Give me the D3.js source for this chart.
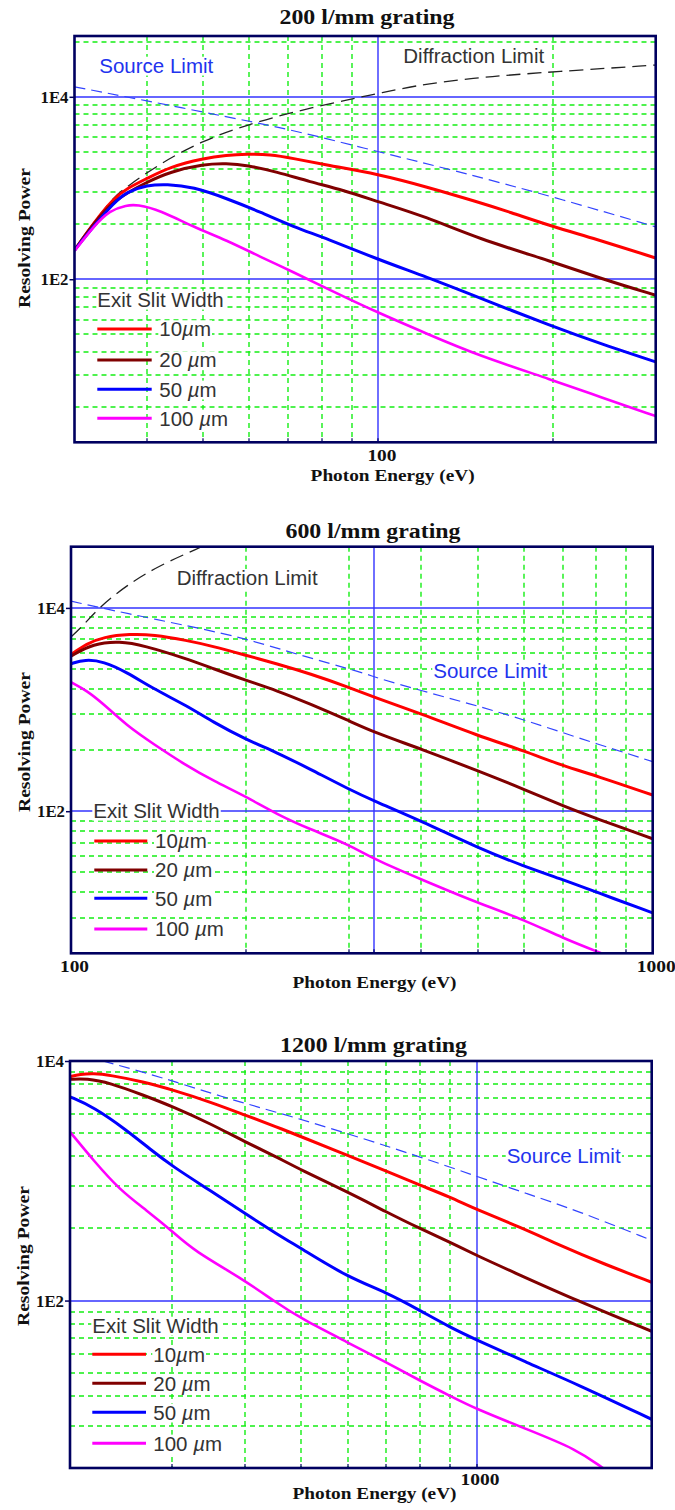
<!DOCTYPE html>
<html>
<head>
<meta charset="utf-8">
<script src="https://cdn.jsdelivr.net/npm/d3@7"></script>
<style>
  body { margin: 0; background: #fff; }
  svg { display: block; }
</style>
</head>
<body>
<svg id="chart" width="675" height="1510"></svg>
<script>
// ---------------------------------------------------------------
// Resolving power vs photon energy, [energy (eV), resolving power]
// ---------------------------------------------------------------
const slitLabels = ["10µm", "20 µm", "50 µm", "100 µm"];
const slitColors = ["#ff0000", "#800000", "#0000ff", "#ff00ff"];
const powerTicks = [1e2, 1e4];

// 200 l/mm grating
const energyRange200 = [30, 300];
const powerRange200 = [1.63, 46400];
const majorEnergy200 = [100];
const labelEnergy200 = [100];
const g200_diffraction = [[30,208],[32.3,411],[35,795],[36.9,1030],[42.1,1858],[50,3350],[60,5010],[71.4,6840],[90.6,9600],[100,10900],[121,14030],[158,16870],[200,18790],[300,22290]];
const g200_source = [[30,12870],[39.4,9200],[54.8,6040],[71.4,4315],[100,2495],[138,1504],[200,800],[300,375]];
const g200_10um = [[30,208],[32.3,408],[35,768],[36.9,988],[40,1273],[43.8,1706],[50,2110],[54.8,2293],[59.4,2350],[65.1,2335],[71.4,2110],[81.5,1781],[100,1419],[121,1030],[148,705],[168,547],[200,375],[235,280],[300,171]];
const g200_20um = [[30,208],[32.3,401],[35,736],[40,1168],[43.8,1504],[50,1827],[54.8,1858],[59.4,1781],[66.8,1504],[76.3,1168],[87.1,947],[100,705],[121,483],[148,280],[200,155],[241,102],[300,66.8]];
const g200_50um = [[30,208],[32.3,375],[35,682],[36.9,908],[40,1075],[43.2,1102],[48,1030],[54.8,768],[62.6,547],[71.4,375],[81.5,280],[100,164],[121,106],[148,64],[200,30],[241,19.7],[300,12.4]];
const g200_100um = [[30,204],[32.3,375],[34.5,571],[36.9,648],[38.4,660],[42.1,571],[48,375],[54.8,268],[62.6,176],[71.4,120],[81.5,79],[100,42.7],[121,25.4],[148,14.7],[200,7.8],[241,5.1],[300,3.16]];

// 600 l/mm grating
const energyRange600 = [100, 1000];
const powerRange600 = [4, 40000];
const majorEnergy600 = [332];
const labelEnergy600 = [100, 1000];
const g600_diffraction = [[100,5173],[105,6748],[112.1,10230],[124.7,16760],[142.2,26390],[166.7,39110],[170,41600]];
const g600_source = [[100,11645],[124.7,8805],[162.3,6493],[200,4989],[241.1,3573],[322.4,2251],[332,2084],[408.8,1482],[498,1095],[607,779],[740,533],[1000,307]];
const g600_10um = [[100,3467],[106.4,4453],[113.7,5173],[126.3,5538],[138.5,5463],[158,4797],[175.7,4188],[200,3412],[225.8,2825],[257.5,2251],[300,1660],[332,1322],[400,907],[500,554],[600,394],[700,280],[800,223],[1000,144]];
const g600_20um = [[100,3357],[109.2,4453],[121.4,4692],[133.1,4284],[158,3166],[175.7,2522],[200,1934],[225.8,1540],[257.5,1138],[300,779],[332,597],[400,409],[500,250],[600,165],[700,113],[800,84.5],[1000,53.6]];
const g600_50um = [[100,2825],[105.7,3116],[113.7,2978],[124.7,2334],[138.5,1601],[158,1095],[175.7,749],[200,506],[225.8,379],[257.5,260],[300,165],[332,126],[400,80.2],[500,43.7],[600,28.8],[700,21.3],[800,16.0],[1000,9.98]];
const g600_100um = [[100,1860],[106.4,1540],[113.7,1138],[124.7,695],[138.5,459],[158,280],[175.7,199],[200,139],[225.8,93.4],[257.5,66.4],[300,47.2],[332,33.6],[400,21.3],[500,12.5],[600,8.6],[700,5.65],[828,3.88]];

// 1200 l/mm grating
const energyRange1200 = [200, 2000];
const powerRange1200 = [4, 10000];
const majorEnergy1200 = [1000];
const labelEnergy1200 = [1000];
const g1200_source = [[227.8,10000],[285.6,7390],[371.8,4874],[484,3420],[638,2255],[800,1582],[1000,1091],[1219,781],[1486,566],[2000,318]];
const g1200_10um = [[200,7390],[208,7740],[219.3,7890],[234,7635],[267.3,6710],[301,5718],[348,4565],[400,3533],[453,2820],[500,2326],[600,1635],[700,1201],[800,917],[900,732],[1000,574],[1187,411],[1391,289],[1651,203],[2000,142]];
const g1200_20um = [[200,7030],[213.6,7165],[234,6582],[267.3,5194],[301,4147],[348,3011],[400,2112],[453,1582],[500,1224],[600,806],[700,548],[800,398],[900,307],[1000,238],[1141,178],[1486,100],[2000,55.4]];
const g1200_50um = [[200,5027],[219.3,4147],[250.3,2646],[274.6,1835],[301,1305],[348,833],[400,532],[453,361],[500,271],[600,157],[700,117],[800,82.5],[900,59.8],[1000,46.9],[1219,30.4],[1486,20.1],[2000,10.2]];
const g1200_100um = [[200,2561],[219.3,1484],[243.8,833],[271,566],[301,373],[325.8,262],[400,147],[447,100],[500,70.3],[600,44.8],[700,30.4],[800,21.4],[900,16.0],[1000,12.4],[1219,8.44],[1486,5.74],[1651,3.98]];

// ---------------------------------------------------------------
// Panel layout
// ---------------------------------------------------------------
const panels = [
  { title: "200 l/mm grating", titleX: 367, titleBase: 24, titleLen: 175,
    left: 74.5, right: 655.7, top: 36, bottom: 442.3,
    energy: energyRange200, power: powerRange200, majorE: majorEnergy200, labelE: labelEnergy200,
    curves: [g200_10um, g200_20um, g200_50um, g200_100um],
    source: g200_source, diffraction: g200_diffraction,
    xLabelBase: 461, xTitleX: 392.6, xTitleBase: 481, yTitleX: 24.5, yTitleY: 238,
    sourceText: [99.3, 72.7], diffText: [403.3, 62.7],
    legTitle: [97.3, 306.7], legRows: [329, 360, 389.3, 418.3], legLine: [97.3, 151.7], legTextX: 159.3 },
  { title: "600 l/mm grating", titleX: 373, titleBase: 538, titleLen: 175,
    left: 71, right: 652.7, top: 546.7, bottom: 953.3,
    energy: energyRange600, power: powerRange600, majorE: majorEnergy600, labelE: labelEnergy600,
    curves: [g600_10um, g600_20um, g600_50um, g600_100um],
    source: g600_source, diffraction: g600_diffraction,
    xLabelBase: 971.5, xTitleX: 374.5, xTitleBase: 988, yTitleX: 24, yTitleY: 742,
    sourceText: [433.3, 678.3], diffText: [176.7, 585],
    legTitle: [93.3, 817.7], legRows: [841, 870, 898.3, 929], legLine: [94.3, 147.3], legTextX: 155 },
  { title: "1200 l/mm grating", titleX: 373.5, titleBase: 1052, titleLen: 187,
    left: 70, right: 651.7, top: 1061, bottom: 1468,
    energy: energyRange1200, power: powerRange1200, majorE: majorEnergy1200, labelE: labelEnergy1200,
    curves: [g1200_10um, g1200_20um, g1200_50um, g1200_100um],
    source: g1200_source, diffraction: null,
    xLabelBase: 1485, xTitleX: 374.5, xTitleBase: 1499, yTitleX: 23, yTitleY: 1256,
    sourceText: [506.7, 1163.3], diffText: null,
    legTitle: [92.3, 1332.7], legRows: [1354.3, 1383.3, 1412.3, 1443.3], legLine: [92.3, 146], legTextX: 153.3 }
];

const SERIF = "'Liberation Serif','Times New Roman',serif";
const SANS = "'Liberation Sans',Arial,Helvetica,sans-serif";
const GRID = "#14ee14";
const MAJOR = "#3333ff";
const FRAME = "#000060";

const svg = d3.select("#chart");
svg.append("rect").attr("width", 675).attr("height", 1510).attr("fill", "#fff");

// energy grid: 2..9 x decade, inside the range
function energyGrid(domain, majors) {
  const out = [];
  const p0 = Math.floor(Math.log10(domain[0])), p1 = Math.ceil(Math.log10(domain[1]));
  for (let p = p0; p <= p1; p++)
    for (let k = 1; k <= 9; k++) {
      const v = k * Math.pow(10, p);
      if (v > domain[0] * 1.01 && v < domain[1] * 0.99 && !majors.some(m => Math.abs(m - v) < 1e-6)) out.push(v);
    }
  return out;
}
// power grid: k^2 x 10^(2n) between the labelled lines
function powerGrid(domain) {
  const out = [];
  for (let n = -1; n <= 3; n++)
    for (let k = 2; k <= 9; k++) {
      const v = k * k * Math.pow(10, 2 * n);
      if (v > domain[0] * 1.02 && v < domain[1] * 0.98) out.push(v);
    }
  return out;
}

// text with an opaque white box behind the glyphs
function boxedText(g, x, y, str, fill, size) {
  const grp = g.append("g");
  const t = grp.append("text")
    .attr("x", x).attr("y", y)
    .attr("font-family", SANS).attr("font-size", size)
    .attr("fill", fill);
  const parts = str.split("µ");
  t.append("tspan").text(parts[0]);
  if (parts.length > 1) {
    t.append("tspan").attr("font-style", "italic").text("µ");
    t.append("tspan").text(parts[1]);
  }
  const bb = t.node().getBBox();
  grp.insert("rect", "text")
    .attr("x", bb.x - 1).attr("y", y - size * 0.78)
    .attr("width", bb.width + 2).attr("height", size * 0.92)
    .attr("fill", "#fff");
  return grp;
}

panels.forEach((p, i) => {
  const x = d3.scaleLog().domain(p.energy).range([p.left, p.right]);
  const y = d3.scaleLog().domain(p.power).range([p.bottom, p.top]);
  const g = svg.append("g");
  // grid lines sit on whole pixels so each one spreads the same way
  const snapX = v => Math.round(x(v));
  const snapY = v => Math.round(y(v));

  const clipId = "clip" + i;
  svg.append("defs").append("clipPath").attr("id", clipId)
    .append("rect").attr("x", p.left).attr("y", p.top)
    .attr("width", p.right - p.left).attr("height", p.bottom - p.top);

  // minor grid
  g.append("g").selectAll("line").data(powerGrid(p.power)).join("line")
    .attr("x1", p.left).attr("x2", p.right)
    .attr("y1", snapY).attr("y2", snapY)
    .attr("stroke", GRID).attr("stroke-width", 1.4).attr("stroke-dasharray", "5,4");
  g.append("g").selectAll("line").data(energyGrid(p.energy, p.majorE)).join("line")
    .attr("y1", p.top).attr("y2", p.bottom)
    .attr("x1", snapX).attr("x2", snapX)
    .attr("stroke", GRID).attr("stroke-width", 1.4).attr("stroke-dasharray", "5,4");

  // labelled lines
  g.append("g").selectAll("line").data(powerTicks).join("line")
    .attr("x1", p.left).attr("x2", p.right)
    .attr("y1", snapY).attr("y2", snapY)
    .attr("stroke", MAJOR).attr("stroke-width", 1.5);
  g.append("g").selectAll("line").data(p.majorE).join("line")
    .attr("y1", p.top).attr("y2", p.bottom)
    .attr("x1", snapX).attr("x2", snapX)
    .attr("stroke", MAJOR).attr("stroke-width", 1.4);

  // annotations
  boxedText(g, p.sourceText[0], p.sourceText[1], "Source Limit", "#2233ee", 20.5);
  if (p.diffText) boxedText(g, p.diffText[0], p.diffText[1], "Diffraction Limit", "#333", 20.5);

  // legend
  boxedText(g, p.legTitle[0], p.legTitle[1], "Exit Slit Width", "#333", 20.5);
  p.legRows.forEach((ry, j) => {
    g.append("line").attr("x1", p.legLine[0]).attr("x2", p.legLine[1])
      .attr("y1", ry).attr("y2", ry)
      .attr("stroke", slitColors[j]).attr("stroke-width", 3);
    boxedText(g, p.legTextX, ry + 7.3, slitLabels[j], "#333", 20.5);
  });

  // curves (smoothed through the read-off points)
  const line = d3.line().x(d => x(d[0])).y(d => y(d[1])).curve(d3.curveBasis);
  const cg = g.append("g").attr("clip-path", `url(#${clipId})`);
  cg.append("path").datum(p.source).attr("d", line)
    .attr("fill", "none").attr("stroke", "#3344ff").attr("stroke-width", 1.2)
    .attr("stroke-dasharray", "11,6");
  if (p.diffraction) cg.append("path").datum(p.diffraction).attr("d", line)
    .attr("fill", "none").attr("stroke", "#222").attr("stroke-width", 1.3)
    .attr("stroke-dasharray", "14,7");
  p.curves.forEach((c, j) => {
    cg.append("path").datum(c).attr("d", line)
      .attr("fill", "none").attr("stroke", slitColors[j])
      .attr("stroke-width", j === 3 ? 2.6 : 3).attr("stroke-linejoin", "round");
  });

  // frame
  g.append("rect").attr("x", p.left).attr("y", p.top)
    .attr("width", p.right - p.left).attr("height", p.bottom - p.top)
    .attr("fill", "none").attr("stroke", FRAME).attr("stroke-width", 2.6);

  // axes
  const yAxis = d3.axisLeft(y).tickValues(powerTicks)
    .tickFormat(v => "1E" + Math.round(Math.log10(v))).tickSize(5).tickPadding(1);
  const ya = g.append("g").attr("transform", `translate(${p.left},0)`).call(yAxis);
  ya.select(".domain").remove();
  ya.selectAll(".tick line").attr("stroke", FRAME).attr("stroke-width", 1.5);
  ya.selectAll(".tick text").attr("font-family", SERIF).attr("font-weight", "bold")
    .attr("font-size", 16.5).attr("fill", "#111").attr("dy", "0.34em")
    .attr("textLength", 28).attr("lengthAdjust", "spacingAndGlyphs");

  const xAxis = d3.axisBottom(x).tickValues(p.labelE).tickFormat(d3.format("d")).tickSize(0).tickPadding(0);
  const xa = g.append("g").attr("transform", `translate(3,0)`).call(xAxis);
  xa.select(".domain").remove();
  xa.selectAll(".tick text").attr("font-family", SERIF).attr("font-weight", "bold")
    .attr("font-size", 16.5).attr("fill", "#111")
    .attr("y", p.xLabelBase).attr("dy", 0)
    .attr("textLength", d => d >= 1000 ? 39 : 29).attr("lengthAdjust", "spacingAndGlyphs");

  // small inward ticks along the bottom edge
  const minorX = energyGrid(p.energy, p.majorE).concat(p.majorE);
  g.append("g").selectAll("line").data(minorX).join("line")
    .attr("x1", snapX).attr("x2", snapX)
    .attr("y1", p.bottom - 4).attr("y2", p.bottom)
    .attr("stroke", FRAME).attr("stroke-width", 1.2);

  // titles
  g.append("text").attr("x", p.titleX).attr("y", p.titleBase)
    .attr("text-anchor", "middle").attr("font-family", SERIF).attr("font-weight", "bold")
    .attr("font-size", 20).attr("fill", "#111")
    .attr("textLength", p.titleLen).attr("lengthAdjust", "spacingAndGlyphs")
    .text(p.title);
  g.append("text").attr("x", p.xTitleX).attr("y", p.xTitleBase)
    .attr("text-anchor", "middle").attr("font-family", SERIF).attr("font-weight", "bold")
    .attr("font-size", 17).attr("fill", "#111")
    .attr("textLength", 164).attr("lengthAdjust", "spacingAndGlyphs")
    .text("Photon Energy (eV)");
  g.append("text")
    .attr("transform", `translate(${p.yTitleX},${p.yTitleY}) rotate(-90)`)
    .attr("text-anchor", "middle").attr("dy", "0.32em")
    .attr("font-family", SERIF).attr("font-weight", "bold")
    .attr("font-size", 17.5).attr("fill", "#111")
    .attr("textLength", 140).attr("lengthAdjust", "spacingAndGlyphs")
    .text("Resolving Power");
});
</script>
</body>
</html>
